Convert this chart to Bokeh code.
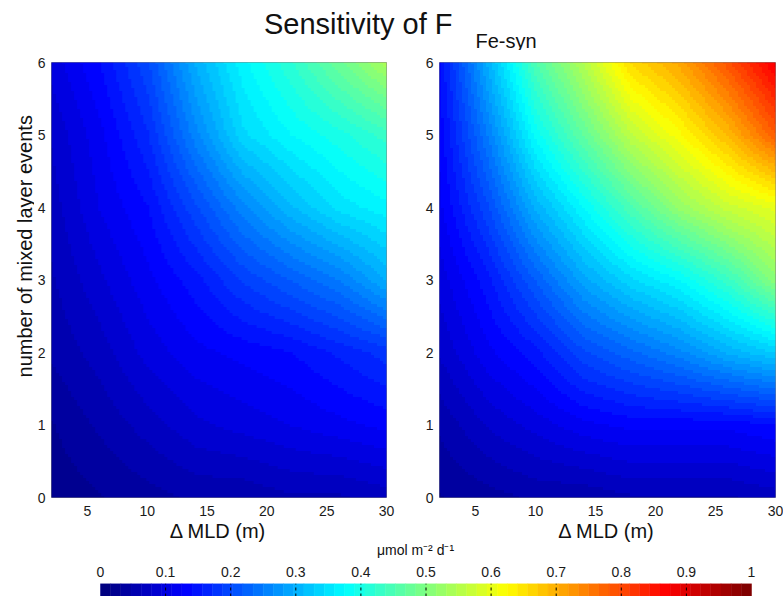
import numpy as np
from bokeh.plotting import figure
from bokeh.models import Range1d, LinearColorMapper, FixedTicker, Label, NumeralTickFormatter
from bokeh.layouts import column, row
from bokeh.embed import file_html
from bokeh.resources import INLINE

# ---- data ----
mld = [2, 6, 10, 14, 18, 22, 26, 30]          # Delta MLD (m)
events = [0, 1, 2, 3, 4, 5, 6]                # number of mixed layer events

# rows: events 0..6, columns: mld
left_vals = [
    [0.02, 0.03, 0.04, 0.05, 0.05, 0.06, 0.06, 0.07],
    [0.03, 0.05, 0.07, 0.09, 0.10, 0.11, 0.12, 0.13],
    [0.05, 0.07, 0.10, 0.12, 0.13, 0.14, 0.16, 0.18],
    [0.06, 0.09, 0.12, 0.15, 0.19, 0.22, 0.25, 0.30],
    [0.07, 0.11, 0.14, 0.20, 0.26, 0.31, 0.35, 0.37],
    [0.08, 0.12, 0.17, 0.26, 0.34, 0.375, 0.40, 0.43],
    [0.10, 0.14, 0.20, 0.30, 0.37, 0.42, 0.48, 0.54],
]
right_vals = [
    [0.03, 0.04, 0.05, 0.05, 0.06, 0.06, 0.06, 0.07],
    [0.05, 0.08, 0.10, 0.12, 0.13, 0.13, 0.13, 0.14],
    [0.08, 0.12, 0.15, 0.20, 0.23, 0.26, 0.30, 0.33],
    [0.10, 0.15, 0.22, 0.29, 0.34, 0.375, 0.43, 0.51],
    [0.12, 0.20, 0.30, 0.375, 0.45, 0.52, 0.57, 0.60],
    [0.13, 0.25, 0.38, 0.47, 0.56, 0.62, 0.69, 0.78],
    [0.14, 0.30, 0.45, 0.55, 0.66, 0.71, 0.79, 0.88],
]
x_ticks = [5, 10, 15, 20, 25, 30]
y_ticks = [0, 1, 2, 3, 4, 5, 6]
cbar_ticks = [0, 0.1, 0.2, 0.3, 0.4, 0.5, 0.6, 0.7, 0.8, 0.9, 1]
cbar_low, cbar_high = 0, 1

FONT = "Liberation Sans"
TXT = "#111111"
W = 783


def jet(n):
    out = []
    for i in range(n):
        v = i / (n - 1)
        r = min(max(1.5 - abs(4 * v - 3), 0), 1)
        g = min(max(1.5 - abs(4 * v - 2), 0), 1)
        b = min(max(1.5 - abs(4 * v - 1), 0), 1)
        out.append("#%02x%02x%02x" % (round(r * 255), round(g * 255), round(b * 255)))
    return out


palette = jet(64)
mapper = LinearColorMapper(palette=palette, low=cbar_low, high=cbar_high)


def shade_interp(vals, xs, ys, fx, fy):
    """Display-only smooth shading between the grid nodes (like shading interp)."""
    v = np.asarray(vals, dtype=float)
    xf = np.linspace(xs[0], xs[-1], fx)
    yf = np.linspace(ys[0], ys[-1], fy)
    tmp = np.array([np.interp(xf, xs, r) for r in v])
    out = np.array([np.interp(yf, ys, tmp[:, j]) for j in range(fx)]).T
    return xf, yf, out


def text_strip(w, h):
    """A blank figure whose frame fills it, coordinates in pixels from its top-left."""
    s = figure(width=w, height=h, x_range=Range1d(0, w), y_range=Range1d(h, 0),
               x_axis_location=None, y_axis_location=None, min_border=0,
               output_backend="svg", toolbar_location=None)
    s.grid.visible = False
    s.outline_line_color = None
    return s


def style_axis(ax, standoff):
    ax.axis_line_color = None
    ax.major_tick_line_color = None
    ax.minor_tick_line_color = None
    ax.major_tick_out = 0
    ax.major_tick_in = 0
    ax.minor_tick_out = 0
    ax.minor_tick_in = 0
    ax.major_label_text_font = FONT
    ax.major_label_text_font_size = "14px"
    ax.major_label_text_color = "#1a1a1a"
    ax.major_label_standoff = standoff


def panel(vals, frame_w, bl, br):
    p = figure(frame_width=frame_w, frame_height=435,
               x_range=Range1d(mld[0], mld[-1]), y_range=Range1d(events[0], events[-1]),
               min_border_left=bl, min_border_right=br, min_border_top=12, min_border_bottom=24,
               output_backend="svg", toolbar_location=None)
    xf, yf, img = shade_interp(vals, mld, events, 113, 146)
    hx = xf[1] - xf[0]
    hy = yf[1] - yf[0]
    p.image(image=[img], x=xf[0] - hx / 2, y=yf[0] - hy / 2,
            dw=(xf[-1] - xf[0]) + hx, dh=(yf[-1] - yf[0]) + hy,
            color_mapper=mapper)
    p.grid.visible = False
    p.outline_line_color = "#808080"
    p.xaxis.ticker = FixedTicker(ticks=x_ticks)
    p.yaxis.ticker = FixedTicker(ticks=y_ticks)
    style_axis(p.xaxis[0], 8)
    style_axis(p.yaxis[0], 6)
    return p


p1 = panel(left_vals, 335, 16, 10)
p2 = panel(right_vals, 336, 43, 9)

# y-axis title strip (left of the first panel)
ys = text_strip(34, 471)
ys.add_layout(Label(x=24, y=199, text="number of mixed layer events", angle=np.pi / 2,
                    text_align="center", text_baseline="middle", text_font=FONT,
                    text_font_size="20px", text_color=TXT))

# title strip
pt = text_strip(W, 50)
pt.add_layout(Label(x=452, y=23, text="Sensitivity of F", text_align="right",
                    text_baseline="middle", text_font=FONT, text_font_size="29px",
                    text_color=TXT))
pt.add_layout(Label(x=475, y=40, text="Fe-syn", text_align="left",
                    text_baseline="middle", text_font=FONT, text_font_size="20px",
                    text_color=TXT))

# x-axis titles and unit strip
xs_ = text_strip(W, 38)
for cx in (217.5, 606):
    xs_.add_layout(Label(x=cx, y=9, text="Δ MLD (m)", text_align="center",
                         text_baseline="middle", text_font=FONT, text_font_size="20px",
                         text_color=TXT))
xs_.add_layout(Label(x=415, y=28, text="μmol m⁻² d⁻¹", text_align="center",
                     text_baseline="middle", text_font=FONT, text_font_size="14px",
                     text_color=TXT))

# colorbar (frame spans the full width; the bar runs from x=100 to x=751 px)
bar_l, bar_r = 100, 751
span = cbar_high - cbar_low
px = span / (bar_r - bar_l)
pc = figure(width=W, frame_height=13,
            x_range=Range1d(cbar_low - bar_l * px, cbar_high + (W - bar_r) * px),
            y_range=Range1d(0, 1), x_axis_location="above", y_axis_location=None,
            min_border_left=0, min_border_right=0, min_border_top=24, min_border_bottom=0,
            output_backend="svg", toolbar_location=None)
n = len(palette)
edges = np.linspace(cbar_low, cbar_high, n + 1)
pc.quad(left=edges[:-1], right=edges[1:], bottom=0, top=1, fill_color=palette,
        line_color=palette, line_width=0.5)
pc.segment(x0=cbar_ticks[1:-1], y0=0, x1=cbar_ticks[1:-1], y1=1,
           line_color="#000000", line_dash="3 3", line_width=1)
pc.grid.visible = False
pc.outline_line_color = None
ax = pc.xaxis[0]
ax.ticker = FixedTicker(ticks=cbar_ticks)
ax.formatter = NumeralTickFormatter(format="0.[0]")
style_axis(ax, 7)

layout = column(pt, row(ys, p1, p2), xs_, pc)
open("out.html", "w").write(file_html(layout, INLINE))
